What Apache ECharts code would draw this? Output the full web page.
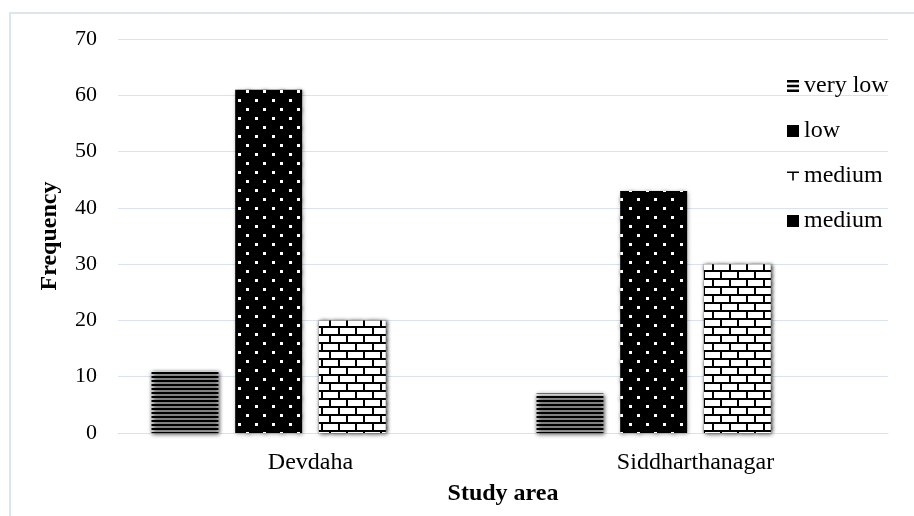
<!DOCTYPE html>
<html>
<head>
<meta charset="utf-8">
<script src="https://cdn.jsdelivr.net/npm/echarts@6/dist/echarts.min.js"></script>
<style>
html,body{margin:0;padding:0;background:#fff;}
#chart{width:914px;height:516px;}
</style>
</head>
<body>
<div id="chart"></div>
<script>
var categories = ['Devdaha', 'Siddharthanagar'];
var veryLow = [11, 7];
var low = [61, 43];
var medium = [20, 30];
var medium2 = [0, 0];
var seriesNames = ['very low', 'low', 'medium', 'medium '];
var yTicks = [0, 10, 20, 30, 40, 50, 60, 70];

var FONT = 'Liberation Serif';
var shadow = {shadowBlur: 4, shadowColor: 'rgba(0,0,0,0.35)', shadowOffsetX: 1, shadowOffsetY: 1};

var chart = echarts.init(document.getElementById('chart'), null, {renderer: 'canvas'});
chart.setOption({
  animation: false,
  backgroundColor: '#fff',
  graphic: [{
    type: 'rect',
    shape: {x: 10, y: 13, width: 1000, height: 1000},
    style: {fill: 'none', stroke: '#dce6f2', lineWidth: 2},
    silent: true
  }],
  grid: {left: 118, right: 26, top: 39, bottom: 83},
  legend: {
    orient: 'vertical',
    left: 787,
    top: 74,
    padding: 0,
    itemWidth: 12,
    itemHeight: 12,
    itemGap: 21,
    textStyle: {fontFamily: FONT, fontSize: 24, color: '#000', lineHeight: 24},
    data: [
      {name: seriesNames[0], icon: 'path://M0,0H12V2.6H0Z M0,4.7H12V7.3H0Z M0,9.4H12V12H0Z', itemStyle: {color: '#000', decal: 'none'}},
      {name: seriesNames[1], icon: 'rect', itemStyle: {color: '#000', decal: 'none'}},
      {name: seriesNames[2], icon: 'path://M0,3H12V4.6H6.8V12H5.2V4.6H0Z', itemStyle: {color: '#000', decal: 'none'}},
      {name: seriesNames[3], icon: 'rect', itemStyle: {color: '#000', decal: 'none'}}
    ]
  },
  xAxis: {
    type: 'category',
    data: categories,
    name: 'Study area',
    nameLocation: 'middle',
    nameGap: 49,
    nameTextStyle: {fontFamily: FONT, fontSize: 24, fontWeight: 'bold', color: '#000'},
    axisLine: {show: true, lineStyle: {color: '#d9e1f2', width: 1}},
    axisTick: {show: false},
    axisLabel: {fontFamily: FONT, fontSize: 24, color: '#000', margin: 18}
  },
  yAxis: {
    type: 'value',
    min: 0,
    max: 70,
    interval: 10,
    name: 'Frequency',
    nameLocation: 'middle',
    nameGap: 56,
    nameRotate: 90,
    nameTextStyle: {fontFamily: FONT, fontSize: 24, fontWeight: 'bold', color: '#000'},
    axisLine: {show: false},
    axisTick: {show: false},
    axisLabel: {
      fontFamily: FONT, fontSize: 22, color: '#000', margin: 21,
      formatter: function (v) { return yTicks.indexOf(v) >= 0 ? String(v) : ''; }
    },
    splitLine: {lineStyle: {color: '#d9e1f2', width: 1}}
  },
  series: [
    {
      name: seriesNames[0], type: 'bar', data: veryLow,
      barGap: '25%', barCategoryGap: '17.4%',
      itemStyle: Object.assign({
        color: '#fff',
        decal: {symbol: 'rect', symbolSize: 1, color: '#000', dashArrayX: [1, 0], dashArrayY: [1.6, 1.4]}
      }, shadow)
    },
    {
      name: seriesNames[1], type: 'bar', data: low,
      itemStyle: Object.assign({
        color: '#000',
        decal: {symbol: 'rect', symbolSize: 1, color: '#fff', dashArrayX: [[2.2, 13.8], [0, 8, 2.2, 5.8]], dashArrayY: [2.2, 5.8]}
      }, shadow)
    },
    {
      name: seriesNames[2], type: 'bar', data: medium,
      itemStyle: Object.assign({
        color: '#000',
        decal: {symbol: 'rect', symbolSize: 1, color: '#fff', dashArrayX: [[14.5, 2], [6, 2, 8.5, 0]], dashArrayY: [5.5, 2]}
      }, shadow)
    },
    {
      name: seriesNames[3], type: 'bar', data: medium2,
      itemStyle: {color: '#000'}
    }
  ]
});
</script>
</body>
</html>
